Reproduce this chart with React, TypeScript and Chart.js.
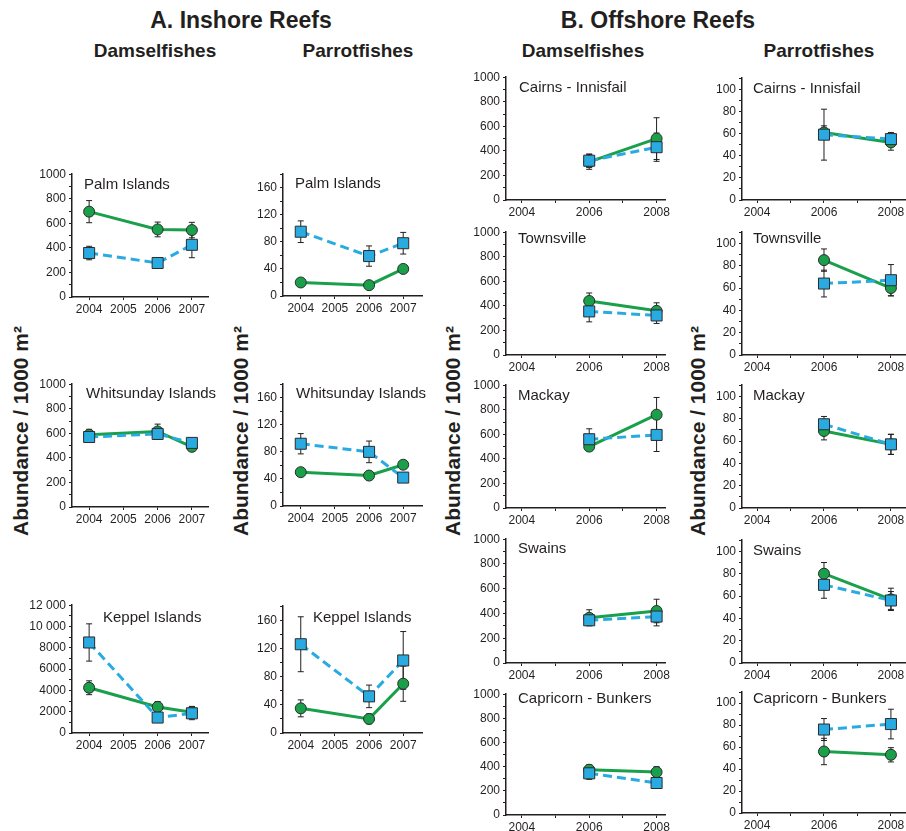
import React, { useEffect, useRef } from "react";
import { Chart, registerables } from "chart.js";
Chart.register(...registerables);

const FONT = "'Liberation Sans', Arial, Helvetica, sans-serif";
const GREEN = "#1a9f4b";
const BLUE = "#29abe2";
const EDGE = "#2b2b2b";
const AXIS = "#231f20";
const TEXT = "#231f20";

// ---------- x axis years ----------
const inshoreYears = [2004, 2006, 2007];
const offshoreYears = [2006, 2008];
const inshoreTickYears = [2004, 2005, 2006, 2007];
const inshoreLabelYears = [2004, 2005, 2006, 2007];
const offshoreTickYears = [2004, 2005, 2006, 2007, 2008];
const offshoreLabelYears = [2004, 2006, 2008];

// ---------- A. Inshore reefs — Damselfishes ----------
const palmDamselGreen = [695, 550, 545];
const palmDamselGreenErr = [90, 60, 63];
const palmDamselBlue = [358, 277, 425];
const palmDamselBlueErr = [55, 20, 105];

const whitDamselGreen = [588, 615, 490];
const whitDamselGreenErr = [45, 60, 30];
const whitDamselBlue = [570, 595, 522];
const whitDamselBlueErr = [30, 45, 30];

const keppelDamselGreen = [4250, 2450, 1950];
const keppelDamselGreenErr = [650, 500, 550];
const keppelDamselBlue = [8500, 1450, 1850];
const keppelDamselBlueErr = [1750, 450, 600];

// ---------- A. Inshore reefs — Parrotfishes ----------
const palmParrotGreen = [20, 16, 40];
const palmParrotGreenErr = [2, 2, 3];
const palmParrotBlue = [95, 59, 78];
const palmParrotBlueErr = [16, 15, 16];

const whitParrotGreen = [50, 45, 61];
const whitParrotGreenErr = [2, 3, 4];
const whitParrotBlue = [92, 80, 42];
const whitParrotBlueErr = [15, 16, 3];

const keppelParrotGreen = [35, 20, 70];
const keppelParrotGreenErr = [12, 7, 25];
const keppelParrotBlue = [126, 52, 103];
const keppelParrotBlueErr = [39, 16, 41];

// ---------- B. Offshore reefs — Damselfishes ----------
const cairnsDamselGreen = [310, 500];
const cairnsDamselGreenErr = [60, 170];
const cairnsDamselBlue = [320, 430];
const cairnsDamselBlueErr = [55, 115];

const townsDamselGreen = [440, 360];
const townsDamselGreenErr = [65, 65];
const townsDamselBlue = [355, 322];
const townsDamselBlueErr = [85, 65];

const mackayDamselGreen = [500, 760];
const mackayDamselGreenErr = [30, 140];
const mackayDamselBlue = [560, 595];
const mackayDamselBlueErr = [85, 135];

const swainsDamselGreen = [365, 420];
const swainsDamselGreenErr = [65, 95];
const swainsDamselBlue = [345, 375];
const swainsDamselBlueErr = [40, 75];

const capriDamselGreen = [375, 355];
const capriDamselGreenErr = [40, 45];
const capriDamselBlue = [345, 265];
const capriDamselBlueErr = [50, 30];

// ---------- B. Offshore reefs — Parrotfishes ----------
const cairnsParrotGreen = [61, 52];
const cairnsParrotGreenErr = [6, 7];
const cairnsParrotBlue = [59, 55];
const cairnsParrotBlueErr = [23, 6];

const townsParrotGreen = [85, 60];
const townsParrotGreenErr = [10, 7];
const townsParrotBlue = [64, 67];
const townsParrotBlueErr = [12, 14];

const mackayParrotGreen = [69, 57];
const mackayParrotGreenErr = [8, 9];
const mackayParrotBlue = [75, 57];
const mackayParrotBlueErr = [7, 9];

const swainsParrotGreen = [80, 57];
const swainsParrotGreenErr = [10, 10];
const swainsParrotBlue = [70, 56];
const swainsParrotBlueErr = [12, 8];

const capriParrotGreen = [56, 53];
const capriParrotGreenErr = [12, 6.5];
const capriParrotBlue = [76, 81];
const capriParrotBlueErr = [10, 13.5];

// ---------- error bar plugin ----------
const errorBarPlugin = {
  id: "errorBars",
  beforeDatasetsDraw(chart: any) {
    const ctx = chart.ctx;
    const ys = chart.scales.y;
    ctx.save();
    ctx.strokeStyle = AXIS;
    ctx.lineWidth = 1;
    chart.data.datasets.forEach((ds: any, i: number) => {
      const meta = chart.getDatasetMeta(i);
      const errs: number[] = ds.errors || [];
      meta.data.forEach((pt: any, j: number) => {
        const v = ds.data[j].y;
        const e = errs[j];
        if (!e) return;
        const yt = ys.getPixelForValue(v + e);
        const yb = ys.getPixelForValue(v - e);
        const x = pt.x;
        ctx.beginPath();
        ctx.moveTo(x, yt);
        ctx.lineTo(x, yb);
        ctx.moveTo(x - 3, yt);
        ctx.lineTo(x + 3, yt);
        ctx.moveTo(x - 3, yb);
        ctx.lineTo(x + 3, yb);
        ctx.stroke();
      });
    });
    ctx.restore();
  },
};

type PanelProps = {
  axisX: number;
  right: number;
  top: number;
  bottom: number;
  xMin: number;
  xMax: number;
  xTicks: number[];
  xLabels: number[];
  years: number[];
  yMax: number;
  yStep: number;
  yLabelStep: number;
  green: number[];
  greenErr: number[];
  blue: number[];
  blueErr: number[];
  fmt?: (v: number) => string;
};

const WY = 46;
const PT = 10;
const HX = 24;
const PR = 14;

function Panel(p: PanelProps) {
  const ref = useRef<HTMLCanvasElement>(null);
  const width = WY + (p.right - p.axisX) + PR;
  const height = p.bottom - p.top + PT + HX;
  useEffect(() => {
    const fmt = p.fmt || ((v: number) => String(v));
    const chart = new Chart(ref.current as HTMLCanvasElement, {
      type: "line",
      data: {
        datasets: [
          {
            data: p.years.map((x, i) => ({ x, y: p.blue[i] })),
            errors: p.blueErr,
            borderColor: BLUE,
            borderWidth: 3,
            borderDash: [9, 5],
            pointStyle: "rect",
            pointRadius: 7.8,
            pointBackgroundColor: BLUE,
            pointBorderColor: EDGE,
            pointBorderWidth: 1,
            tension: 0,
          } as any,
          {
            data: p.years.map((x, i) => ({ x, y: p.green[i] })),
            errors: p.greenErr,
            borderColor: GREEN,
            borderWidth: 3,
            pointStyle: "circle",
            pointRadius: 5.5,
            pointBackgroundColor: GREEN,
            pointBorderColor: EDGE,
            pointBorderWidth: 1,
            tension: 0,
          } as any,
        ],
      },
      options: {
        animation: false,
        responsive: false,
        devicePixelRatio: 1,
        layout: { padding: { top: PT, right: PR, left: 0, bottom: 0 } },
        plugins: {
          legend: { display: false },
          tooltip: { enabled: false },
          title: { display: false },
        },
        scales: {
          x: {
            type: "linear",
            min: p.xMin,
            max: p.xMax,
            afterBuildTicks: (s: any) => {
              s.ticks = p.xTicks.map((v) => ({ value: v }));
            },
            afterFit: (s: any) => {
              s.height = HX;
            },
            ticks: {
              autoSkip: false,
              maxRotation: 0,
              padding: 2,
              color: TEXT,
              font: { size: 12, family: FONT },
              callback: (v: any) => (p.xLabels.includes(Number(v)) ? String(v) : ""),
            },
            grid: {
              display: true,
              drawOnChartArea: false,
              drawTicks: true,
              tickLength: 3,
              color: AXIS,
              lineWidth: 1,
            },
            border: { display: true, color: AXIS, width: 1.5 },
          },
          y: {
            type: "linear",
            min: 0,
            max: p.yMax,
            afterFit: (s: any) => {
              s.width = WY;
            },
            ticks: {
              stepSize: p.yStep,
              autoSkip: false,
              padding: 3,
              color: TEXT,
              font: { size: 12, family: FONT },
              callback: (v: any) => {
                const n = Math.round(Number(v));
                return n % p.yLabelStep === 0 ? fmt(n) : "";
              },
            },
            grid: {
              display: true,
              drawOnChartArea: false,
              drawTicks: true,
              tickLength: 3,
              color: AXIS,
              lineWidth: 1,
            },
            border: { display: true, color: AXIS, width: 1.5 },
          },
        },
      } as any,
      plugins: [errorBarPlugin],
    });
    return () => chart.destroy();
  }, []);
  return (
    <canvas
      ref={ref}
      width={width}
      height={height}
      style={{
        position: "absolute",
        left: p.axisX - WY,
        top: p.top - PT,
        width,
        height,
      }}
    />
  );
}

const keppelFmt = (v: number) => (v >= 10000 ? `${Math.floor(v / 1000)} ${String(v % 1000).padStart(3, "0")}` : String(v));

const inDam = { axisX: 72, right: 208, xMin: 2003.5, xMax: 2007.47, xTicks: inshoreTickYears, xLabels: inshoreLabelYears, years: inshoreYears };
const inPar = { axisX: 283, right: 422, xMin: 2003.48, xMax: 2007.55, xTicks: inshoreTickYears, xLabels: inshoreLabelYears, years: inshoreYears };
const offDam = { axisX: 506, right: 665, xMin: 2003.53, xMax: 2008.25, xTicks: offshoreTickYears, xLabels: offshoreLabelYears, years: offshoreYears };
const offPar = { axisX: 742, right: 910, xMin: 2003.55, xMax: 2008.57, xTicks: offshoreTickYears, xLabels: offshoreLabelYears, years: offshoreYears };

function Label(props: { text: string; left: number; baseline: number }) {
  return (
    <div
      style={{
        position: "absolute",
        left: props.left,
        top: props.baseline - 13,
        fontSize: 15,
        lineHeight: "15px",
        color: "#231f20",
        whiteSpace: "nowrap",
      }}
    >
      {props.text}
    </div>
  );
}

function Header(props: { text: string; cx: number; cy: number; size: number }) {
  return (
    <div
      style={{
        position: "absolute",
        left: props.cx - 200,
        width: 400,
        top: props.cy - props.size / 2,
        fontSize: props.size,
        lineHeight: `${props.size}px`,
        fontWeight: "bold",
        textAlign: "center",
        color: "#231f20",
        whiteSpace: "nowrap",
      }}
    >
      {props.text}
    </div>
  );
}

function YTitle(props: { cx: number; cy: number }) {
  return (
    <div
      style={{
        position: "absolute",
        left: props.cx,
        top: props.cy,
        transform: "translate(-50%, -50%) rotate(-90deg)",
        fontSize: 21,
        lineHeight: "21px",
        fontWeight: "bold",
        color: "#231f20",
        whiteSpace: "nowrap",
      }}
    >
      Abundance / 1000 m²
    </div>
  );
}

export default function App() {
  return (
    <div
      style={{
        position: "absolute",
        left: 0,
        top: 0,
        width: 906,
        height: 831,
        overflow: "hidden",
        background: "#ffffff",
        fontFamily: FONT,
      }}
    >
      <Header text="A. Inshore Reefs" cx={241} cy={20} size={23} />
      <Header text="B. Offshore Reefs" cx={658} cy={20} size={23} />
      <Header text="Damselfishes" cx={155} cy={50} size={19} />
      <Header text="Parrotfishes" cx={358} cy={50} size={19} />
      <Header text="Damselfishes" cx={583} cy={50} size={19} />
      <Header text="Parrotfishes" cx={819} cy={50} size={19} />
      <YTitle cx={20} cy={431} />
      <YTitle cx={240} cy={431} />
      <YTitle cx={452} cy={431} />
      <YTitle cx={697} cy={431} />

      {/* Inshore damselfishes */}
      <Panel {...inDam} top={174} bottom={297} yMax={1000} yStep={100} yLabelStep={200} green={palmDamselGreen} greenErr={palmDamselGreenErr} blue={palmDamselBlue} blueErr={palmDamselBlueErr} />
      <Panel {...inDam} top={384} bottom={507} yMax={1000} yStep={100} yLabelStep={200} green={whitDamselGreen} greenErr={whitDamselGreenErr} blue={whitDamselBlue} blueErr={whitDamselBlueErr} />
      <Panel {...inDam} top={605} bottom={733} yMax={12000} yStep={1000} yLabelStep={2000} fmt={keppelFmt} green={keppelDamselGreen} greenErr={keppelDamselGreenErr} blue={keppelDamselBlue} blueErr={keppelDamselBlueErr} />

      {/* Inshore parrotfishes */}
      <Panel {...inPar} top={174} bottom={296} yMax={180} yStep={20} yLabelStep={40} green={palmParrotGreen} greenErr={palmParrotGreenErr} blue={palmParrotBlue} blueErr={palmParrotBlueErr} />
      <Panel {...inPar} top={384} bottom={506} yMax={180} yStep={20} yLabelStep={40} green={whitParrotGreen} greenErr={whitParrotGreenErr} blue={whitParrotBlue} blueErr={whitParrotBlueErr} />
      <Panel {...inPar} top={606} bottom={733} yMax={180} yStep={20} yLabelStep={40} green={keppelParrotGreen} greenErr={keppelParrotGreenErr} blue={keppelParrotBlue} blueErr={keppelParrotBlueErr} />

      {/* Offshore damselfishes */}
      <Panel {...offDam} top={77} bottom={200} yMax={1000} yStep={100} yLabelStep={200} green={cairnsDamselGreen} greenErr={cairnsDamselGreenErr} blue={cairnsDamselBlue} blueErr={cairnsDamselBlueErr} />
      <Panel {...offDam} top={232} bottom={355} yMax={1000} yStep={100} yLabelStep={200} green={townsDamselGreen} greenErr={townsDamselGreenErr} blue={townsDamselBlue} blueErr={townsDamselBlueErr} />
      <Panel {...offDam} top={385} bottom={508} yMax={1000} yStep={100} yLabelStep={200} green={mackayDamselGreen} greenErr={mackayDamselGreenErr} blue={mackayDamselBlue} blueErr={mackayDamselBlueErr} />
      <Panel {...offDam} top={539} bottom={663} yMax={1000} yStep={100} yLabelStep={200} green={swainsDamselGreen} greenErr={swainsDamselGreenErr} blue={swainsDamselBlue} blueErr={swainsDamselBlueErr} />
      <Panel {...offDam} top={694} bottom={815} yMax={1000} yStep={100} yLabelStep={200} green={capriDamselGreen} greenErr={capriDamselGreenErr} blue={capriDamselBlue} blueErr={capriDamselBlueErr} />

      {/* Offshore parrotfishes */}
      <Panel {...offPar} top={78} bottom={200} yMax={110} yStep={10} yLabelStep={20} green={cairnsParrotGreen} greenErr={cairnsParrotGreenErr} blue={cairnsParrotBlue} blueErr={cairnsParrotBlueErr} />
      <Panel {...offPar} top={232} bottom={355} yMax={110} yStep={10} yLabelStep={20} green={townsParrotGreen} greenErr={townsParrotGreenErr} blue={townsParrotBlue} blueErr={townsParrotBlueErr} />
      <Panel {...offPar} top={385} bottom={508} yMax={110} yStep={10} yLabelStep={20} green={mackayParrotGreen} greenErr={mackayParrotGreenErr} blue={mackayParrotBlue} blueErr={mackayParrotBlueErr} />
      <Panel {...offPar} top={540} bottom={663} yMax={110} yStep={10} yLabelStep={20} green={swainsParrotGreen} greenErr={swainsParrotGreenErr} blue={swainsParrotBlue} blueErr={swainsParrotBlueErr} />
      <Panel {...offPar} top={692} bottom={813} yMax={110} yStep={10} yLabelStep={20} green={capriParrotGreen} greenErr={capriParrotGreenErr} blue={capriParrotBlue} blueErr={capriParrotBlueErr} />

      {/* Panel titles */}
      <Label text="Palm Islands" left={84} baseline={189} />
      <Label text="Whitsunday Islands" left={86} baseline={398} />
      <Label text="Keppel Islands" left={103} baseline={622} />
      <Label text="Palm Islands" left={295} baseline={188} />
      <Label text="Whitsunday Islands" left={296} baseline={398} />
      <Label text="Keppel Islands" left={313} baseline={622} />
      <Label text="Cairns - Innisfail" left={519} baseline={92} />
      <Label text="Townsville" left={518} baseline={243} />
      <Label text="Mackay" left={518} baseline={400} />
      <Label text="Swains" left={518} baseline={553} />
      <Label text="Capricorn - Bunkers" left={518} baseline={703} />
      <Label text="Cairns - Innisfail" left={753} baseline={93} />
      <Label text="Townsville" left={753} baseline={243} />
      <Label text="Mackay" left={753} baseline={400} />
      <Label text="Swains" left={753} baseline={555} />
      <Label text="Capricorn - Bunkers" left={753} baseline={703} />
    </div>
  );
}
